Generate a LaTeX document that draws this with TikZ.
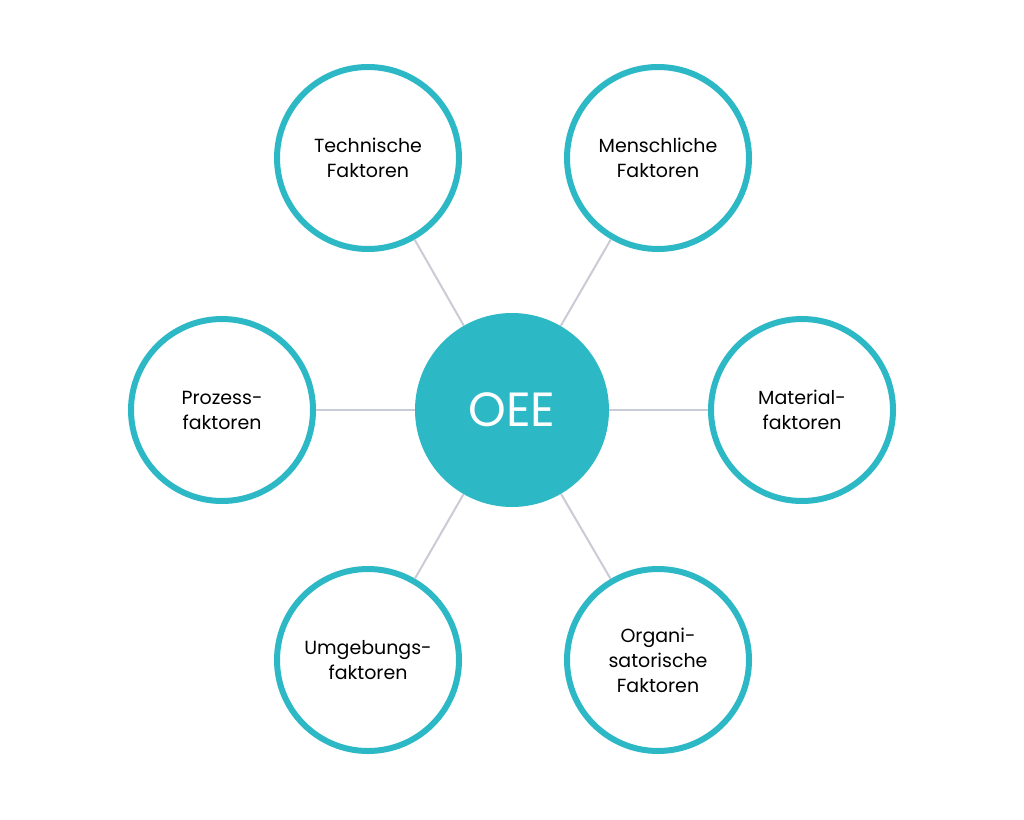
\documentclass[tikz,border=0pt]{standalone}
\usepackage{fontspec}
\setmainfont{Poppins}
\definecolor{teal1}{HTML}{2DB8C6}
\definecolor{lgray}{HTML}{C9CBD6}
\begin{document}
\begin{tikzpicture}[x=1pt,y=-1pt,
  outer/.style={circle,draw=teal1,line width=6pt,fill=white,minimum size=182pt,inner sep=0pt,align=center,font=\fontsize{19}{25}\selectfont},
  conn/.style={draw=lgray,line width=2pt}]
\useasboundingbox (0,0) rectangle (1024,819);
\node[circle,fill=teal1,minimum size=194pt,text=white,font=\fontsize{48}{50}\selectfont] (oee) at (512,410) {OEE};
\node[outer] (t) at (368,158) {Technische\\Faktoren};
\node[outer] (m) at (658,158) {Menschliche\\Faktoren};
\node[outer] (p) at (222,410) {Prozess-\\faktoren};
\node[outer] (ma) at (802,410) {Material-\\faktoren};
\node[outer] (u) at (368,660) {Umgebungs-\\faktoren};
\node[outer] (o) at (658,660) {Organi-\\satorische\\Faktoren};
\foreach \n in {t,m,p,ma,u,o} \draw[conn] (oee) -- (\n);
\end{tikzpicture}
\end{document}
